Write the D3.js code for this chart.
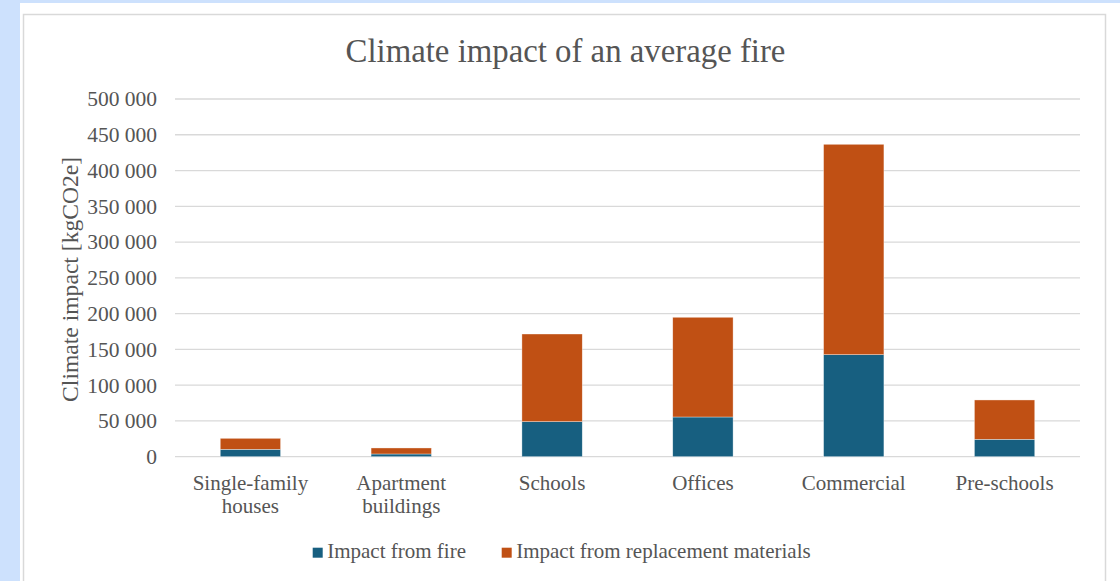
<!DOCTYPE html>
<html>
<head>
<meta charset="utf-8">
<script src="https://cdn.jsdelivr.net/npm/d3@7"></script>
<style>
  body { margin: 0; background: #cde1fd; }
  svg { display: block; }
  svg text { font-family: "Liberation Serif", "Tinos", "DejaVu Serif", serif; fill: #555555; }
</style>
</head>
<body>
<div id="chart"></div>
<script>
// data
var categories = ["Single-family houses", "Apartment buildings", "Schools", "Offices", "Commercial", "Pre-schools"];
var categoryLines = [["Single-family", "houses"], ["Apartment", "buildings"], ["Schools"], ["Offices"], ["Commercial"], ["Pre-schools"]];
var fireImpact = [10300, 3800, 49000, 55500, 142600, 24300];
var replacementImpact = [15400, 8400, 122500, 139400, 294100, 55000];
var seriesNames = ["Impact from fire", "Impact from replacement materials"];
var yTicks = [0, 50000, 100000, 150000, 200000, 250000, 300000, 350000, 400000, 450000, 500000];

var colors = ["#175f80", "#c05014"];
var fontFamily = "'Liberation Serif', 'Tinos', 'DejaVu Serif', serif";

var svgWidth = 1120;
var svgHeight = 581;

var plot = { left: 175, right: 1080, top: 99, bottom: 456.7 };

var svg = d3.select("#chart")
  .append("svg")
  .attr("width", svgWidth)
  .attr("height", svgHeight)
  .attr("font-family", fontFamily);

// white chart area + light border
svg.append("rect")
  .attr("x", 20).attr("y", 3)
  .attr("width", svgWidth - 20).attr("height", svgHeight - 3)
  .attr("fill", "white");

svg.append("rect")
  .attr("x", 23.5).attr("y", 14.5)
  .attr("width", 1082).attr("height", 600)
  .attr("fill", "none")
  .attr("stroke", "#d9d9d9")
  .attr("stroke-width", 1.5);

var rows = categories.map(function(c, i) {
  return { cat: c, fire: fireImpact[i], repl: replacementImpact[i] };
});

var stack = d3.stack().keys(["fire", "repl"]);
var stacked = stack(rows);

var xScale = d3.scaleBand()
  .domain(categories)
  .range([plot.left, plot.right])
  .paddingInner(0.6)
  .paddingOuter(0.3);

var yScale = d3.scaleLinear()
  .domain([0, 500000])
  .range([plot.bottom, plot.top]);

var locale = d3.formatLocale({ decimal: ".", thousands: " ", grouping: [3], currency: ["", ""] });
var fmt = locale.format(",");

// gridlines
svg.append("g")
  .selectAll("line")
  .data(yTicks)
  .enter()
  .append("line")
  .attr("x1", plot.left)
  .attr("x2", plot.right)
  .attr("y1", d => yScale(d))
  .attr("y2", d => yScale(d))
  .attr("stroke", "#d9d9d9")
  .attr("stroke-width", 1.3);

// y axis labels
var leftAxis = d3.axisLeft(yScale)
  .tickValues(yTicks)
  .tickFormat(fmt)
  .tickSize(0)
  .tickPadding(18);

var yAxisG = svg.append("g")
  .attr("transform", `translate(${plot.left}, 0)`)
  .call(leftAxis)
  .attr("font-family", fontFamily)
  .attr("font-size", "21.5px");
yAxisG.select(".domain").remove();

// bars
svg.append("g")
  .selectAll("g")
  .data(stacked)
  .enter()
  .append("g")
  .attr("fill", (d, i) => colors[i])
  .selectAll("rect")
  .data(d => d)
  .enter()
  .append("rect")
  .attr("x", d => xScale(d.data.cat))
  .attr("width", xScale.bandwidth())
  .attr("y", d => yScale(d[1]))
  .attr("height", d => yScale(d[0]) - yScale(d[1]))
  .attr("stroke", "white")
  .attr("stroke-width", 0.6)
  .attr("stroke-opacity", 0.6);

// category labels
var catG = svg.append("g")
  .selectAll("text")
  .data(categories)
  .enter()
  .append("text")
  .attr("x", d => xScale(d) + xScale.bandwidth() / 2)
  .attr("y", 489.5)
  .attr("text-anchor", "middle")
  .attr("font-size", "21px");

catG.each(function(d, i) {
  var t = d3.select(this);
  categoryLines[i].forEach(function(line, j) {
    t.append("tspan")
      .attr("x", xScale(d) + xScale.bandwidth() / 2)
      .attr("dy", j === 0 ? 0 : 23)
      .text(line);
  });
});

// title
svg.append("text")
  .attr("x", (plot.left + plot.right) / 2 - 62)
  .attr("y", 62)
  .attr("text-anchor", "middle")
  .attr("font-size", "32.8px")
  .text("Climate impact of an average fire");

// y axis title
svg.append("text")
  .attr("transform", `translate(78, ${(plot.top + plot.bottom) / 2 + 1.5}) rotate(-90)`)
  .attr("text-anchor", "middle")
  .attr("font-size", "23.6px")
  .text("Climate impact [kgCO2e]");

// legend
var legendX = [312.7, 501.7];
var legend = svg.append("g")
  .selectAll("g")
  .data(seriesNames)
  .enter()
  .append("g")
  .attr("transform", (d, i) => `translate(${legendX[i]}, 547.7)`);

legend.append("rect")
  .attr("width", 10)
  .attr("height", 10)
  .attr("fill", (d, i) => colors[i]);

legend.append("text")
  .attr("x", 14.5)
  .attr("y", 10)
  .attr("font-size", "21px")
  .text(d => d);
</script>
</body>
</html>
